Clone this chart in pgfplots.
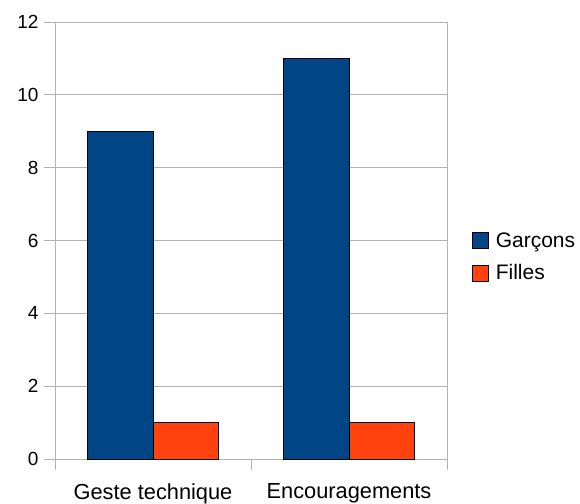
\documentclass[border=0pt]{standalone}
\usepackage{fontspec}
\setmainfont{Liberation Sans}
\usepackage{pgfplots}
\pgfplotsset{compat=1.18}
\definecolor{cblue}{HTML}{004586}
\definecolor{corange}{HTML}{FF420E}
\begin{document}
\begin{tikzpicture}[x=1pt,y=1pt]
\useasboundingbox (0,0) rectangle (580,503);
\begin{axis}[
  at={(55pt,44pt)}, anchor=south west,
  scale only axis, width=392pt, height=437pt,
  ybar=0pt, bar width=0.3333,
  xmin=-0.5, xmax=1.5, ymin=0, ymax=12,
  ytick={0,2,...,12},
  xtick={0,1}, xticklabels={Geste technique, Encouragements},
  minor xtick={-0.5,0.5,1.5},
  major x tick style={draw=none},
  tick align=outside,
  major tick length=11pt, minor tick length=11pt,
  tick style={gray!60, line width=0.8pt},
  axis line style={gray!60, line width=0.8pt},
  ymajorgrids, grid style={gray!60, line width=0.8pt},
  xtick pos=bottom, ytick pos=left,
  /pgf/number format/assume math mode=true,
  yticklabel style={font=\fontsize{19}{22}\selectfont, xshift=-2pt},
  xticklabel style={font=\fontsize{21.8}{25}\selectfont, yshift=-10pt},
  legend style={at={(rel axis cs:1.056,0.528)}, anchor=north west, draw=none, fill=none,
    font=\fontsize{21}{25}\selectfont, row sep=12pt},
  legend cell align=left,
  legend image code/.code={\draw[#1, draw=black, line width=0.6pt] (0pt,-8pt) rectangle (16pt,8pt); \path (21pt,0pt);},
]
\addplot[fill=cblue, draw=black, line width=0.6pt] coordinates {(0,9) (1,11)};
\addplot[fill=corange, draw=black, line width=0.6pt] coordinates {(0,1) (1,1)};
\legend{Garçons, Filles}
\end{axis}
\end{tikzpicture}
\end{document}
